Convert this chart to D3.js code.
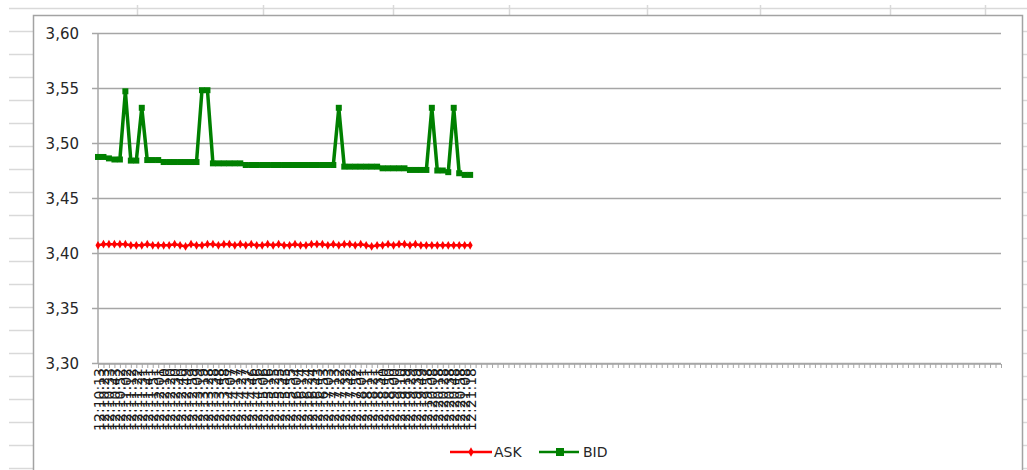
<!DOCTYPE html>
<html><head><meta charset="utf-8">
<script src="https://cdn.jsdelivr.net/npm/d3@7"></script>
<style>
html,body{margin:0;padding:0;background:#fff;}
svg{display:block;}
text{font-family:"DejaVu Sans",sans-serif;}
</style></head>
<body>
<svg id="c" width="1027" height="470"></svg>
<script>
// ---- data ----
const times = [
"12:10:13","12:10:23","12:10:33","12:10:43","12:10:52","12:11:02","12:11:12","12:11:22","12:11:31","12:11:41",
"12:11:51","12:12:01","12:12:10","12:12:20","12:12:30","12:12:40","12:12:49","12:12:59","12:13:09","12:13:19",
"12:13:28","12:13:38","12:13:48","12:13:58","12:14:07","12:14:17","12:14:27","12:14:37","12:14:46","12:14:56",
"12:15:06","12:15:16","12:15:25","12:15:35","12:15:45","12:15:55","12:16:04","12:16:14","12:16:24","12:16:34",
"12:16:43","12:16:53","12:17:03","12:17:13","12:17:22","12:17:32","12:17:42","12:17:52","12:18:01","12:18:11",
"12:18:21","12:18:31","12:18:40","12:18:50","12:19:00","12:19:10","12:19:19","12:19:29","12:19:39","12:19:49",
"12:19:58","12:20:08","12:20:18","12:20:28","12:20:38","12:20:48","12:20:58","12:21:08","12:21:18"];
const ask = [
3.407,3.408,3.408,3.408,3.408,3.408,3.407,3.407,3.407,3.408,
3.407,3.407,3.407,3.407,3.408,3.407,3.406,3.408,3.407,3.407,
3.408,3.408,3.407,3.408,3.408,3.407,3.408,3.407,3.408,3.407,
3.407,3.408,3.407,3.408,3.407,3.407,3.408,3.407,3.407,3.408,
3.408,3.408,3.407,3.408,3.407,3.408,3.408,3.407,3.408,3.407,
3.406,3.407,3.407,3.408,3.407,3.408,3.408,3.407,3.408,3.407,
3.407,3.407,3.407,3.407,3.407,3.407,3.407,3.407,3.407];
const bid = [
3.4873,3.4873,3.486,3.485,3.485,3.547,3.484,3.484,3.532,3.4845,
3.4845,3.4845,3.4827,3.4827,3.4827,3.4827,3.4827,3.4827,3.4827,3.548,
3.548,3.4815,3.4815,3.4815,3.4815,3.4815,3.4815,3.480,3.480,3.480,
3.480,3.480,3.480,3.480,3.480,3.480,3.480,3.480,3.480,3.480,
3.480,3.480,3.480,3.480,3.532,3.4785,3.4785,3.4785,3.4785,3.4785,
3.4785,3.4785,3.477,3.477,3.477,3.477,3.477,3.4755,3.4755,3.4755,
3.4755,3.532,3.475,3.475,3.4735,3.532,3.4725,3.471,3.471];
const categoryCount = 166;           // axis has many empty categories after the data
const yTicks = [3.30,3.35,3.40,3.45,3.50,3.55,3.60];
const seriesNames = ["ASK","BID"];

// ---- layout ----
const svg = d3.select("#c");
const L = 98, R = 1001, T = 33, B = 363;
const bg = "#d9d9d9";

// spreadsheet background grid
const sheet = svg.append("g");
sheet.append("line").attr("x1",9).attr("x2",1027).attr("y1",8.5).attr("y2",8.5).attr("stroke",bg).attr("stroke-width",1.5);
[137,263,393,509,647,760,890,985].forEach(v=>{
  sheet.append("line").attr("x1",v+0.5).attr("x2",v+0.5).attr("y1",5).attr("y2",15).attr("stroke",bg).attr("stroke-width",1.5);
});
for(let yy=31.5; yy<470; yy+=23.0){
  sheet.append("line").attr("x1",9).attr("x2",33).attr("y1",yy).attr("y2",yy).attr("stroke",bg).attr("stroke-width",1.5);
  sheet.append("line").attr("x1",1023).attr("x2",1027).attr("y1",yy).attr("y2",yy).attr("stroke",bg).attr("stroke-width",1.5);
}

// chart area
svg.append("rect").attr("x",33.5).attr("y",15.5).attr("width",989).attr("height",470)
  .attr("fill","#fff").attr("stroke","#a3a3a3").attr("stroke-width",1.5);

const x = d3.scalePoint().domain(d3.range(categoryCount)).range([L, R]);
const y = d3.scaleLinear().domain([3.30,3.60]).range([B, T]);

// gridlines + y axis
const yAx = svg.append("g").attr("transform",`translate(${L},0)`)
  .call(d3.axisLeft(y).tickValues(yTicks).tickSize(0).tickPadding(0)
    .tickFormat(d=>d.toFixed(2).replace(".",",")));
yAx.select(".domain").remove();
yAx.selectAll(".tick line").attr("x1",-6).attr("x2",R-L).attr("stroke","#a6a6a6").attr("stroke-width",1.5);
yAx.selectAll(".tick text").attr("x",-19).attr("dy","0.36em").attr("font-size",15)
  .attr("font-family","DejaVu Sans").attr("fill","#262626");
svg.append("line").attr("x1",L).attr("x2",L).attr("y1",T).attr("y2",B+1).attr("stroke","#a6a6a6").attr("stroke-width",1.5);

// x axis
const xAx = svg.append("g").attr("transform",`translate(0,${B+1})`)
  .call(d3.axisBottom(x).tickSize(4).tickFormat(i => times[i] || ""));
xAx.select(".domain").attr("stroke","#a6a6a6").attr("stroke-width",1.5).attr("d",`M${L},0H${R}`);
xAx.selectAll(".tick line").attr("stroke","#a6a6a6").attr("stroke-width",1);
xAx.selectAll(".tick text").attr("transform","rotate(-90)").attr("text-anchor","end")
  .attr("x",-4).attr("y",0).attr("dy","0.36em").attr("font-size",14)
  .attr("font-family","DejaVu Sans").attr("fill","#1a1a1a");

// series
const line = d3.line().x((d,i)=>x(i)).y(d=>y(d));
svg.append("path").datum(ask).attr("d",line).attr("fill","none").attr("stroke","#ff0000").attr("stroke-width",2.5);
svg.append("g").selectAll("path").data(ask).join("path")
  .attr("d",d3.symbol(d3.symbolDiamond,22)).attr("transform",(d,i)=>`translate(${x(i)},${y(d)})`).attr("fill","#ff0000");

svg.append("path").datum(bid).attr("d",line).attr("fill","none").attr("stroke","#008000").attr("stroke-width",3.5).attr("stroke-linejoin","miter");
svg.append("g").selectAll("rect").data(bid).join("rect")
  .attr("x",(d,i)=>x(i)-3).attr("y",d=>y(d)-3).attr("width",6).attr("height",6).attr("fill","#008000");

// legend
const lg = svg.append("g");
lg.append("line").attr("x1",450).attr("x2",492).attr("y1",452).attr("y2",452).attr("stroke","#ff0000").attr("stroke-width",2.5);
lg.append("path").attr("d",d3.symbol(d3.symbolDiamond,26)).attr("transform","translate(471,452)").attr("fill","#ff0000");
lg.append("text").attr("x",494).attr("y",457).attr("font-size",14).attr("fill","#262626").text(seriesNames[0]);
lg.append("line").attr("x1",539).attr("x2",579).attr("y1",452).attr("y2",452).attr("stroke","#008000").attr("stroke-width",2.5);
lg.append("rect").attr("x",556).attr("y",448).attr("width",8).attr("height",8).attr("fill","#008000");
lg.append("text").attr("x",583).attr("y",457).attr("font-size",14).attr("fill","#262626").text(seriesNames[1]);
</script>
</body></html>
